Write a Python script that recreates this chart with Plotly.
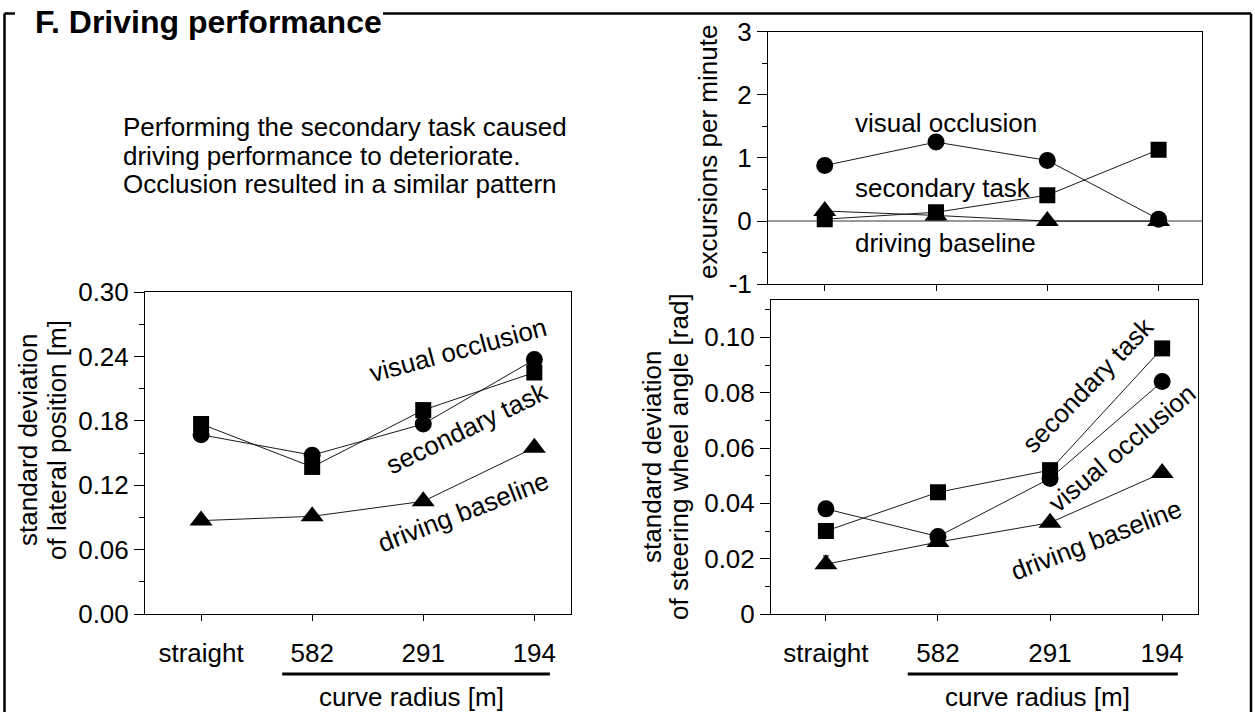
import plotly.graph_objects as go

W, H = 1255, 712
FONT = "Liberation Sans, Arial, Helvetica, sans-serif"

categories = ["straight", "582", "291", "194"]

# Left panel: standard deviation of lateral position [m]
lat_occlusion = [0.167, 0.148, 0.177, 0.237]
lat_secondary = [0.177, 0.137, 0.190, 0.225]
lat_baseline = [0.087, 0.091, 0.105, 0.155]

# Top-right panel: excursions per minute
exc_occlusion = [0.88, 1.25, 0.96, 0.03]
exc_secondary = [0.03, 0.14, 0.41, 1.13]
exc_baseline = [0.16, 0.09, 0.0, 0.0]

# Bottom-right panel: standard deviation of steering wheel angle [rad]
steer_occlusion = [0.038, 0.028, 0.049, 0.084]
steer_secondary = [0.030, 0.044, 0.052, 0.096]
steer_baseline = [0.018, 0.026, 0.033, 0.051]
steer_baseline_err = [0.003, 0.0, 0.0, 0.0]

lat_ticks = [0.0, 0.06, 0.12, 0.18, 0.24, 0.30]
lat_ticklabels = ["0.00", "0.06", "0.12", "0.18", "0.24", "0.30"]
lat_minor = [0.03, 0.09, 0.15, 0.21, 0.27]
exc_ticks = [-1, 0, 1, 2, 3]
exc_ticklabels = ["-1", "0", "1", "2", "3"]
exc_minor = [-0.5, 0.5, 1.5, 2.5]
steer_ticks = [0.0, 0.02, 0.04, 0.06, 0.08, 0.10]
steer_ticklabels = ["0", "0.02", "0.04", "0.06", "0.08", "0.10"]
steer_minor = [0.01, 0.03, 0.05, 0.07, 0.09, 0.11]


def px(x):
    return x / W


def py(y):
    return 1 - y / H


fig = go.Figure()

series_style = [
    ("visual occlusion", "circle", 17),
    ("secondary task", "square", 16),
    ("driving baseline", "triangle-up", 20),
]

panels = [
    ("x", "y", [lat_occlusion, lat_secondary, lat_baseline], None),
    ("x2", "y2", [exc_occlusion, exc_secondary, exc_baseline], None),
    ("x3", "y3", [steer_occlusion, steer_secondary, steer_baseline], steer_baseline_err),
]

for xa, ya, vals, err in panels:
    for i, ((name, sym, size), v) in enumerate(zip(series_style, vals)):
        kw = {}
        if err is not None and i == 2:
            kw["error_y"] = dict(type="data", array=err, symmetric=False,
                                 arrayminus=[0, 0, 0, 0], color="black",
                                 thickness=1, width=3)
        fig.add_trace(go.Scatter(
            x=categories, y=v, xaxis=xa, yaxis=ya, name=name,
            mode="lines+markers",
            line=dict(color="black", width=0.9),
            marker=dict(symbol=sym, size=size, color="black", line=dict(width=0)),
            showlegend=False, hoverinfo="skip", **kw,
        ))

tickfont = dict(size=26, color="black", family=FONT)
axis_common = dict(showline=True, linecolor="black", linewidth=1, mirror=True,
                   showgrid=False, zeroline=False, ticks="outside", automargin=False,
                   tickcolor="black", tickwidth=1, tickfont=tickfont)

fig.update_layout(
    width=W, height=H, autosize=False, showlegend=False,
    margin=dict(l=0, r=0, t=0, b=0, pad=0, autoexpand=False),
    paper_bgcolor="white", plot_bgcolor="white",
    font=dict(family=FONT, color="black", size=26),
    xaxis=dict(axis_common, type="category", domain=[px(145), px(571)],
               range=[-0.505, 3.33], anchor="y", ticklen=6, ticklabelstandoff=10),
    yaxis=dict(axis_common, domain=[py(614), py(292)], range=[0, 0.30], anchor="x",
               tickmode="array", tickvals=lat_ticks, ticktext=lat_ticklabels, ticklen=10,
               minor=dict(tickmode="array", tickvals=lat_minor, ticks="outside",
                          ticklen=5, tickcolor="black")),
    xaxis2=dict(axis_common, type="category", domain=[px(768), px(1202)],
                range=[-0.51, 3.39], anchor="y2", ticklen=6, showticklabels=False),
    yaxis2=dict(axis_common, domain=[py(284.3), py(31.5)], range=[-1, 3], anchor="x2",
                tickmode="array", tickvals=exc_ticks, ticktext=exc_ticklabels, ticklen=10,
                zeroline=True, zerolinecolor="#9a9a9a", zerolinewidth=1.5,
                minor=dict(tickmode="array", tickvals=exc_minor, ticks="outside",
                           ticklen=5, tickcolor="black")),
    xaxis3=dict(axis_common, type="category", domain=[px(771), px(1198)],
                range=[-0.49, 3.32], anchor="y3", ticklen=6, ticklabelstandoff=10),
    yaxis3=dict(axis_common, domain=[py(614), py(300)], range=[0, 0.1135], anchor="x3",
                tickmode="array", tickvals=steer_ticks, ticktext=steer_ticklabels, ticklen=10,
                minor=dict(tickmode="array", tickvals=steer_minor, ticks="outside",
                           ticklen=5, tickcolor="black")),
)

ann = []


def text(x, y, s, size=26, angle=0, xanchor="center", yanchor="middle",
         xref="paper", yref="paper"):
    ann.append(dict(x=x, y=y, xref=xref, yref=yref, text=s, showarrow=False,
                    textangle=angle, xanchor=xanchor, yanchor=yanchor,
                    font=dict(size=size, color="black", family=FONT)))


# Title and explanatory text
text(px(33), py(22), "<b>F. Driving performance</b>", size=32, xanchor="left")
para = ["Performing the secondary task caused",
        "driving performance to deteriorate.",
        "Occlusion resulted in a similar pattern"]
for i, line in enumerate(para):
    text(px(121), py(127 + 28.5 * i), line, size=26, xanchor="left")

# Y-axis titles
text(px(28), py(440), "standard deviation", angle=-90)
text(px(57), py(440), "of lateral position [m]", angle=-90)
text(px(708), py(152), "excursions per minute", angle=-90)
text(px(652), py(457), "standard deviation", angle=-90)
text(px(679), py(457), "of steering wheel angle [rad]", angle=-90)

# Series labels: left panel
text(px(458), py(350), "visual occlusion", angle=-15)
text(px(467), py(428), "secondary task", angle=-26)
text(px(463), py(512), "driving baseline", angle=-21)

# Series labels: top-right panel
text(px(853), py(123), "visual occlusion", xanchor="left")
text(px(853), py(188), "secondary task", xanchor="left")
text(px(853), py(243), "driving baseline", xanchor="left")

# Series labels: bottom-right panel
text(px(1088), py(385), "secondary task", angle=-46)
text(px(1122), py(448), "visual occlusion", angle=-40)
text(px(1096), py(540), "driving baseline", angle=-21)

# curve radius captions
text(1.89, py(697), "curve radius [m]", xref="x")
text(1.89, py(697), "curve radius [m]", xref="x3")

fig.update_layout(annotations=ann)

shapes = []
bw = 2.5
# outer frame
shapes.append(dict(type="line", xref="paper", yref="paper", x0=px(4.5), x1=px(4.5),
                   y0=py(13.5), y1=py(712), line=dict(color="black", width=bw)))
shapes.append(dict(type="line", xref="paper", yref="paper", x0=px(4.5), x1=px(15),
                   y0=py(13.5), y1=py(13.5), line=dict(color="black", width=bw)))
shapes.append(dict(type="line", xref="paper", yref="paper", x0=px(383), x1=px(1251),
                   y0=py(13.5), y1=py(13.5), line=dict(color="black", width=bw)))
shapes.append(dict(type="line", xref="paper", yref="paper", x0=px(1251), x1=px(1251),
                   y0=py(13.5), y1=py(712), line=dict(color="black", width=bw)))
# curve radius underline
for xr in ["x", "x3"]:
    shapes.append(dict(type="line", xref=xr, yref="paper", x0=0.73, x1=3.14,
                       y0=py(674), y1=py(674), line=dict(color="black", width=3)))

fig.update_layout(shapes=shapes)

fig.write_html(
    "out.html",
    config={"displayModeBar": False},
    post_script="document.body.style.margin='0';document.body.style.overflow='hidden';",
)
